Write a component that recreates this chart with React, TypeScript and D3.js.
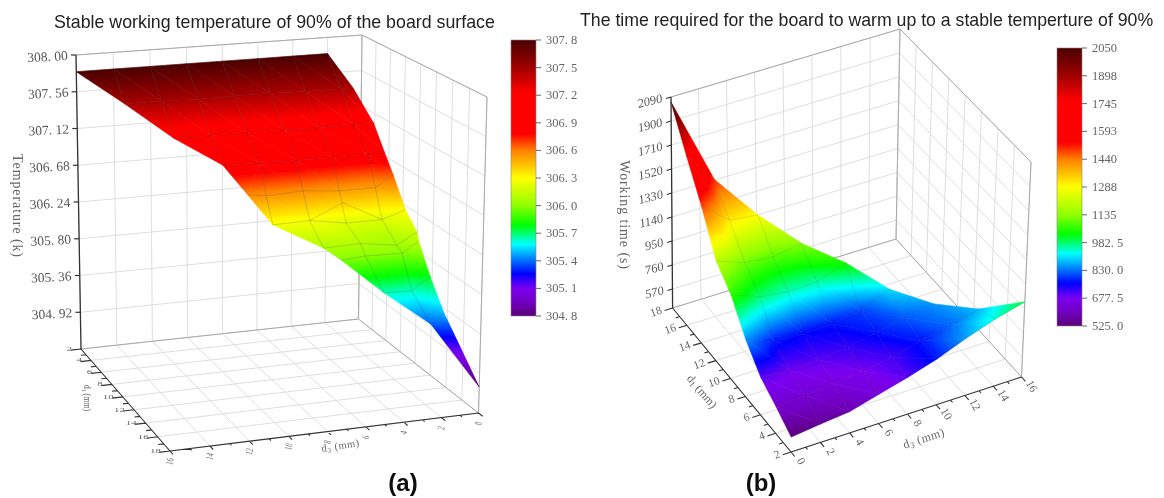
import React from "react";
import * as d3 from "d3";

// colour ramp of both colour bars, bottom to top (fraction of the bar)
const rampStops = [0, 0.05, 0.1, 0.153, 0.214, 0.26, 0.33, 0.4, 0.5, 0.6, 0.66, 0.81, 0.9, 1];
const rampColors = ["#5a0078", "#7000c0", "#7b00f0", "#0000ff", "#0090ff", "#00ffff", "#00ff00", "#90ff00", "#ffff00", "#ff8000", "#ff0000", "#ff0000", "#a00000", "#4a0000"];

// (a) stable temperature
const d1LevelsA = [2, 4, 6, 8, 9, 10, 12, 12.7, 14, 16, 18];
const d3RowsA = [
	[2, 4, 6, 8, 10, 12, 14, 16],
	[1.3, 2, 4, 6, 8, 10, 12, 14],
	[0.9, 2, 4, 6, 8, 10, 12],
	[1.1, 2, 4, 6, 8, 10],
	[1, 2, 4, 6, 8, 9],
	[0.7, 2, 4, 6, 8],
	[0.9, 2, 4, 6],
	[1.1, 2, 4, 5.3],
	[1, 2, 3.5],
	[1.1, 1.8],
	[0],
];
const tempRowsA = [
	[307.8, 307.8, 307.8, 307.8, 307.8, 307.8, 307.8, 307.8],
	[307.46, 307.46, 307.46, 307.47, 307.47, 307.47, 307.48, 307.48],
	[307.12, 307.12, 307.12, 307.13, 307.13, 307.13, 307.14],
	[306.88, 306.87, 306.87, 306.87, 306.88, 306.89],
	[306.66, 306.53, 306.53, 306.57, 306.55, 306.58],
	[306.3, 306.21, 306.21, 306.28, 306.27],
	[306.16, 306.03, 306.09, 306.08],
	[306.1, 305.98, 305.99, 305.97],
	[305.77, 305.63, 305.64],
	[305.49, 305.38],
	[304.77],
];
// the little ridge above the d1 = 10 row
const ridgeA = [
	{ d1: 10, d3: 6, z: 306.28 },
	{ d1: 9.5, d3: 4, z: 306.42 },
	{ d1: 10, d3: 2, z: 306.21 },
];
const zTicksA = [304.92, 305.36, 305.8, 306.24, 306.68, 307.12, 307.56, 308];
const barLabelsA = ["304. 8", "305. 1", "305. 4", "305. 7", "306. 0", "306. 3", "306. 6", "306. 9", "307. 2", "307. 5", "307. 8"];
const barValuesA = [304.8, 305.1, 305.4, 305.7, 306, 306.3, 306.6, 306.9, 307.2, 307.5, 307.8];

// (b) warm-up time
const d1LevelsB = [2, 4, 6, 8, 10, 12, 14, 16, 18];
const timeRowsB = [
	[530, 557, 580, 640, 700, 770, 860, 940, 1005],
	[620, 632, 650, 678, 715, 770, 825, 880],
	[700, 685, 700, 725, 770, 815, 853],
	[850, 770, 760, 770, 800, 900],
	[1060, 980, 950, 960, 1040],
	[1190, 1110, 1090, 1127],
	[1490, 1310, 1285],
	[1756, 1500],
	[2050],
];
const d3RowsB = [
	[0, 2, 4, 6, 8, 10, 12, 14, 16],
	[0, 2, 4, 6, 8, 10, 12, 14],
	[0, 2, 4, 6, 8, 10, 12],
	[0, 2, 4, 6, 8, 10],
	[0, 2, 4, 6, 8],
	[0, 2, 4, 6],
	[0, 2, 4],
	[0, 2],
	[0],
];
const zTicksB = [570, 760, 950, 1140, 1330, 1520, 1710, 1900, 2090];
const barLabelsB = ["525. 0", "677. 5", "830. 0", "982. 5", "1135", "1288", "1440", "1593", "1745", "1898", "2050"];
const barValuesB = [525, 677.5, 830, 982.5, 1135, 1287.5, 1440, 1592.5, 1745, 1897.5, 2050];

const d1Ticks = [2, 4, 6, 8, 10, 12, 14, 16, 18];
const d3Ticks = [0, 2, 4, 6, 8, 10, 12, 14, 16];

type Pt = [number, number];

function squareToQuad(p: Pt[]) {
	const [[x0, y0], [x1, y1], [x2, y2], [x3, y3]] = p;
	const dx3 = x0 - x1 + x2 - x3,
		dy3 = y0 - y1 + y2 - y3,
		dx1 = x1 - x2,
		dx2 = x3 - x2,
		dy1 = y1 - y2,
		dy2 = y3 - y2,
		den = dx1 * dy2 - dx2 * dy1,
		g = (dx3 * dy2 - dx2 * dy3) / den,
		h = (dx1 * dy3 - dx3 * dy1) / den,
		a = x1 - x0 + g * x1,
		b = x3 - x0 + h * x3,
		d = y1 - y0 + g * y1,
		e = y3 - y0 + h * y3;
	return (u: number, v: number): Pt => {
		const w = g * u + h * v + 1;
		return [(a * u + b * v + x0) / w, (d * u + e * v + y0) / w];
	};
}

function makeProjector(floor: Pt[], ceil: Pt[], d3Dom: number[], d1Dom: number[], zDom: number[]) {
	const fl = squareToQuad(floor),
		ce = squareToQuad(ceil),
		us = d3.scaleLinear().domain(d3Dom).range([0, 1]),
		vs = d3.scaleLinear().domain(d1Dom).range([0, 1]),
		ws = d3.scaleLinear().domain(zDom).range([0, 1]);
	return (d3v: number, d1v: number, z: number): Pt => {
		const a = fl(us(d3v), vs(d1v)),
			b = ce(us(d3v), vs(d1v)),
			w = ws(z);
		return [a[0] + (b[0] - a[0]) * w, a[1] + (b[1] - a[1]) * w];
	};
}

function seg(a: Pt, b: Pt) {
	return "M" + a[0].toFixed(1) + "," + a[1].toFixed(1) + "L" + b[0].toFixed(1) + "," + b[1].toFixed(1);
}

type V = { d1: number; d3: number; z: number };

function stripTriangles(a: V[], b: V[]) {
	const out: V[][] = [];
	let i = 0,
		j = 0;
	while (i < a.length - 1 || j < b.length - 1) {
		if (j === b.length - 1 || (i < a.length - 1 && a[i + 1].d3 <= b[j + 1].d3)) {
			out.push([a[i], b[j], a[i + 1]]);
			i++;
		} else {
			out.push([a[i], b[j], b[j + 1]]);
			j++;
		}
	}
	return out;
}

function Surface3D(props: any) {
	const { floor, ceil, d3Dom, d1Dom, zDom, rows, zTicks, zLabel, opts } = props;
	const project = makeProjector(floor, ceil, d3Dom, d1Dom, zDom);
	const [u0, u1] = d3Dom,
		[v0, v1] = d1Dom,
		[z0, z1] = zDom;
	const cf = d3.scaleLinear().domain(props.barDomain).range([0, 1]);
	const ramp = d3.scaleLinear<string>().domain(rampStops).range(rampColors).interpolate(d3.interpolateRgb).clamp(true);

	// grid on the walls and the floor
	let grid = "";
	d3Ticks.forEach((t: number) => {
		grid += seg(project(t, v0, z0), project(t, v0, z1));
		grid += seg(project(t, v0, z0), project(t, v1, z0));
	});
	d1Ticks.forEach((t) => {
		grid += seg(project(u1, t, z0), project(u1, t, z1));
		grid += seg(project(u0, t, z0), project(u1, t, z0));
	});
	zTicks.forEach((t: number) => {
		grid += seg(project(u0, v0, t), project(u1, v0, t));
		grid += seg(project(u1, v0, t), project(u1, v1, t));
	});
	const frame =
		seg(project(u0, v0, z1), project(u1, v0, z1)) +
		seg(project(u1, v0, z1), project(u1, v1, z1)) +
		seg(project(u1, v1, z1), project(u1, v1, z0)) +
		seg(project(u1, v0, z1), project(u1, v0, z0)) +
		seg(project(u0, v0, z0), project(u1, v0, z0)) +
		seg(project(u1, v0, z0), project(u1, v1, z0));

	const verts: V[][] = rows.d1.map((d1: number, r: number) =>
		rows.d3[r].map((d: number, c: number) => ({ d1: d1, d3: d, z: rows.z[r][c] }))
	);
	let tris: V[][] = [];
	for (let r = 0; r < verts.length - 1; r++) tris = tris.concat(stripTriangles(verts[r], verts[r + 1]));

	// each mesh triangle gets its own gradient along the screen gradient of the value
	const patches = tris.map((t, i) => {
		const p = t.map((v) => project(v.d3, v.d1, v.z));
		const d = "M" + p.map((q) => q[0].toFixed(2) + "," + q[1].toFixed(2)).join("L") + "Z";
		const zs = t.map((v) => v.z);
		const lo = d3.min(zs) as number,
			hi = d3.max(zs) as number;
		const ax = p[1][0] - p[0][0],
			ay = p[1][1] - p[0][1],
			bx = p[2][0] - p[0][0],
			by = p[2][1] - p[0][1],
			az = zs[1] - zs[0],
			bz = zs[2] - zs[0],
			det = ax * by - ay * bx;
		const gx = (az * by - bz * ay) / det,
			gy = (bz * ax - az * bx) / det,
			len2 = gx * gx + gy * gy;
		if (hi - lo < 1e-6 || !isFinite(len2) || len2 === 0) return { d, flat: ramp(cf(hi)), id: "" };
		const start = p[zs.indexOf(lo)];
		const k = (hi - lo) / len2;
		const stops = d3.range(0, 1.001, 1 / 12).map((s) => ({ s, c: ramp(cf(lo + (hi - lo) * s)) }));
		return {
			d,
			flat: "",
			id: "tri" + props.id + i,
			x1: start[0],
			y1: start[1],
			x2: start[0] + gx * k,
			y2: start[1] + gy * k,
			stops,
		};
	});

	// mesh lines: rows, plus the columns of constant d3
	const line = d3.line<V>().x((v) => project(v.d3, v.d1, v.z)[0]).y((v) => project(v.d3, v.d1, v.z)[1]);
	const meshPaths: string[] = verts.map((row) => line(row) as string);
	d3Ticks.forEach((t: number) => {
		const col: V[] = [];
		verts.forEach((row) => row.forEach((v) => Math.abs(v.d3 - t) < 0.6 && t > 0 && col.push(v)));
		if (col.length > 1) meshPaths.push(line(col) as string);
	});
	if (props.ridge) meshPaths.push(line(props.ridge) as string);

	// axes
	const zBase = project(u0, v0, z0),
		zTop = project(u0, v0, z1);
	let axisD1 = seg(project(u0, v0, z0), project(u0, v1, z0));
	let axisD3 = seg(project(u0, v1, z0), project(u1, v1, z0));
	const du = (u0 - u1) * 0.035,
		dv = (v1 - v0) * 0.03;
	d3.range(2, 18.5, 1).forEach((t) => {
		const f = t % 2 === 0 ? 1 : 0.5;
		axisD1 += seg(project(u0, t, z0), project(u0 + du * f, t, z0));
	});
	d3.range(0, 16.5, 1).forEach((t) => {
		const f = t % 2 === 0 ? 1 : 0.5;
		axisD3 += seg(project(t, v1, z0), project(t, v1 + dv * f, z0));
	});
	const zScaleTicks = zTicks.map((t: number) => project(u0, v0, t));

	// colour bar
	const barY = d3.scaleLinear().domain(props.barDomain).range([props.bar.bottom, props.bar.top]);
	const gid = "ramp" + props.id;

	const serif = "'Liberation Serif', 'DejaVu Serif', serif";
	return (
		<g>
			<defs>
				<linearGradient id={gid} x1="0" y1="1" x2="0" y2="0">
					{rampStops.map((s, i) => (
						<stop key={i} offset={s} stopColor={rampColors[i]} />
					))}
				</linearGradient>
				{patches.map((p: any) =>
					p.id ? (
						<linearGradient key={p.id} id={p.id} gradientUnits="userSpaceOnUse" x1={p.x1} y1={p.y1} x2={p.x2} y2={p.y2}>
							{p.stops.map((st: any, i: number) => (
								<stop key={i} offset={st.s} stopColor={st.c} />
							))}
						</linearGradient>
					) : null
				)}
			</defs>
			<path d={grid} stroke="#dedede" strokeWidth={1} fill="none" />
			<path d={frame} stroke="#a8a8a8" strokeWidth={1} fill="none" />
			{patches.map((p: any, i: number) => {
				const paint = p.id ? `url(#${p.id})` : p.flat;
				return <path key={i} d={p.d} fill={paint} stroke={paint} strokeWidth={0.6} strokeLinejoin="round" />;
			})}
			{meshPaths.map((s, i) => (
				<path key={i} d={s} fill="none" stroke="#333" strokeOpacity={opts.meshOpacity} strokeWidth={0.8} />
			))}
			<path d={seg(zBase, zTop)} stroke="#333" strokeWidth={1.3} />
			<path d={axisD1} stroke="#333" strokeWidth={1.1} fill="none" />
			<path d={axisD3} stroke="#333" strokeWidth={1.1} fill="none" />
			{zScaleTicks.map((p: Pt, i: number) => (
				<g key={i}>
					<path d={seg(p, [p[0] - 5, p[1] + opts.zTickSlope])} stroke="#333" strokeWidth={1.2} />
					<text
						transform={`translate(${p[0] - 8},${p[1] + 5}) rotate(${opts.zLabelRot})`}
						textAnchor="end"
						fontFamily={serif}
						fontSize={opts.zFont}
						fontStyle={opts.zItalic}
						fill="#555"
					>
						{zLabel(zTicks[i])}
					</text>
				</g>
			))}
			{d1Ticks.map((t) => {
				const p = project(u0, t, z0);
				return (
					<text
						key={t}
						transform={`translate(${p[0] + opts.d1Dx},${p[1] + opts.d1Dy}) ${opts.d1Tf}`}
						textAnchor="end"
						fontFamily={serif}
						fontSize={opts.tickFont}
						fill="#666"
					>
						{t}
					</text>
				);
			})}
			{d3Ticks.map((t: number) => {
				const p = project(t, v1, z0);
				return (
					<text
						key={t}
						transform={`translate(${p[0] + opts.d3Dx},${p[1] + opts.d3Dy}) ${opts.d3Tf}`}
						textAnchor="middle"
						fontFamily={serif}
						fontSize={opts.tickFont}
						fill="#666"
					>
						{t}
					</text>
				);
			})}
			{props.axisTitles.map((a: any, i: number) => (
				<text key={i} transform={a.tf} textAnchor="middle" fontFamily={serif} fontSize={a.size} letterSpacing={a.spacing || 0} fill="#666">
					{a.text}
					{a.sub ? <tspan dy={2} fontSize={a.size * 0.7}>{a.sub}</tspan> : null}
					{a.rest ? <tspan dy={-2}>{a.rest}</tspan> : null}
				</text>
			))}
			<rect
				x={props.bar.left}
				y={props.bar.top}
				width={props.bar.width}
				height={props.bar.bottom - props.bar.top}
				fill={`url(#${gid})`}
				stroke="#888"
				strokeWidth={0.6}
			/>
			{props.barValues.map((v: number, i: number) => (
				<g key={i}>
					<line
						x1={props.bar.left + props.bar.width}
						x2={props.bar.left + props.bar.width + 5}
						y1={barY(v)}
						y2={barY(v)}
						stroke="#666"
					/>
					<text
						x={props.bar.left + props.bar.width + 10}
						y={barY(v) + 4}
						fontFamily={serif}
						fontSize={12.5}
						fill="#666"
					>
						{props.barLabels[i]}
					</text>
				</g>
			))}
		</g>
	);
}

export default function App() {
	const sans = "'Liberation Sans', Arial, sans-serif";
	return (
		<svg width={1164} height={498} viewBox="0 0 1164 498" style={{ position: "absolute", left: 0, top: 0, background: "#fff" }}>
			<defs>
				<filter id="soft" x="0" y="0" width="100%" height="100%">
					<feGaussianBlur stdDeviation="0.4" />
				</filter>
			</defs>
			<g filter="url(#soft)">
				<rect width={1164} height={498} fill="#fff" />
				<Surface3D
					id="a"
					floor={[[81, 349], [358.5, 319], [478.5, 413], [170, 451]]}
					ceil={[[76, 55], [362, 35], [487, 97], [169, 123]]}
					d3Dom={[16, 0]}
					d1Dom={[2, 18]}
					zDom={[304.48, 308]}
					rows={{ d1: d1LevelsA, d3: d3RowsA, z: tempRowsA }}
					ridge={ridgeA}
					zTicks={zTicksA}
					zLabel={(t: number) => d3.format(".2f")(t).replace(".", ". ")}
					barDomain={[304.8, 307.8]}
					barValues={barValuesA}
					barLabels={barLabelsA}
					bar={{ left: 511, width: 25, top: 40, bottom: 316 }}
					axisTitles={[
						{ text: "Temperature  (k)", size: 14, spacing: 0.9, tf: "translate(13,206) rotate(90)" },
						{ text: "d", sub: "1", rest: " (mm)", size: 10, tf: "translate(84,398) rotate(90) scale(0.8,1)" },
						{ text: "d", sub: "3", rest: "  (mm)", size: 10.5, spacing: 0.5, tf: "translate(341,449) rotate(-9)" },
					]}
					opts={{
						meshOpacity: 0.26,
						zTickSlope: 0,
						zLabelRot: -3,
						zItalic: "normal",
						zFont: 13.5,
						tickFont: 10,
						d1Dx: -9,
						d1Dy: 2,
						d1Tf: "scale(1.1,0.6)",
						d3Dx: 3,
						d3Dy: 11,
						d3Tf: "rotate(-78) scale(0.65,1)",
					}}
				/>
				<Surface3D
					id="b"
					floor={[[672.6, 308], [896, 239], [1021.5, 377], [791, 452]]}
					ceil={[[671, 97], [900, 29], [1031, 162], [794, 225]]}
					d3Dom={[0, 16]}
					d1Dom={[18, 2]}
					zDom={[420, 2090]}
					rows={{ d1: d1LevelsB, d3: d3RowsB, z: timeRowsB }}
					zTicks={zTicksB}
					zLabel={(t: number) => String(t)}
					barDomain={[525, 2050]}
					barValues={barValuesB}
					barLabels={barLabelsB}
					bar={{ left: 1057, width: 25, top: 48, bottom: 326 }}
					axisTitles={[
						{ text: "Working  time  (s)", size: 14, spacing: 0.9, tf: "translate(620,215) rotate(90)" },
						{ text: "d", sub: "1", rest: "  (mm)", size: 12, tf: "translate(699,394) rotate(50)" },
						{ text: "d", sub: "3", rest: "  (mm)", size: 12, spacing: 0.5, tf: "translate(925,442) rotate(-18)" },
					]}
					opts={{
						meshOpacity: 0.16,
						zTickSlope: 1.5,
						zLabelRot: -14,
						zItalic: "italic",
						zFont: 12.5,
						tickFont: 11.5,
						d1Dx: -10,
						d1Dy: 5,
						d1Tf: "rotate(-20)",
						d3Dx: 7,
						d3Dy: 11,
						d3Tf: "rotate(60)",
					}}
				/>
				<text x={54} y={28} fontFamily={sans} fontSize={17.8} fill="#222">
					Stable working temperature of 90% of the board surface
				</text>
				<text x={580} y={26} fontFamily={sans} fontSize={17.7} fill="#222">
					The time required for the board to warm up to a stable temperture of 90%
				</text>
				<text x={403} y={491} textAnchor="middle" fontFamily={sans} fontWeight="bold" fontSize={24} fill="#111">
					(a)
				</text>
				<text x={761} y={491} textAnchor="middle" fontFamily={sans} fontWeight="bold" fontSize={24} fill="#111">
					(b)
				</text>
			</g>
		</svg>
	);
}
